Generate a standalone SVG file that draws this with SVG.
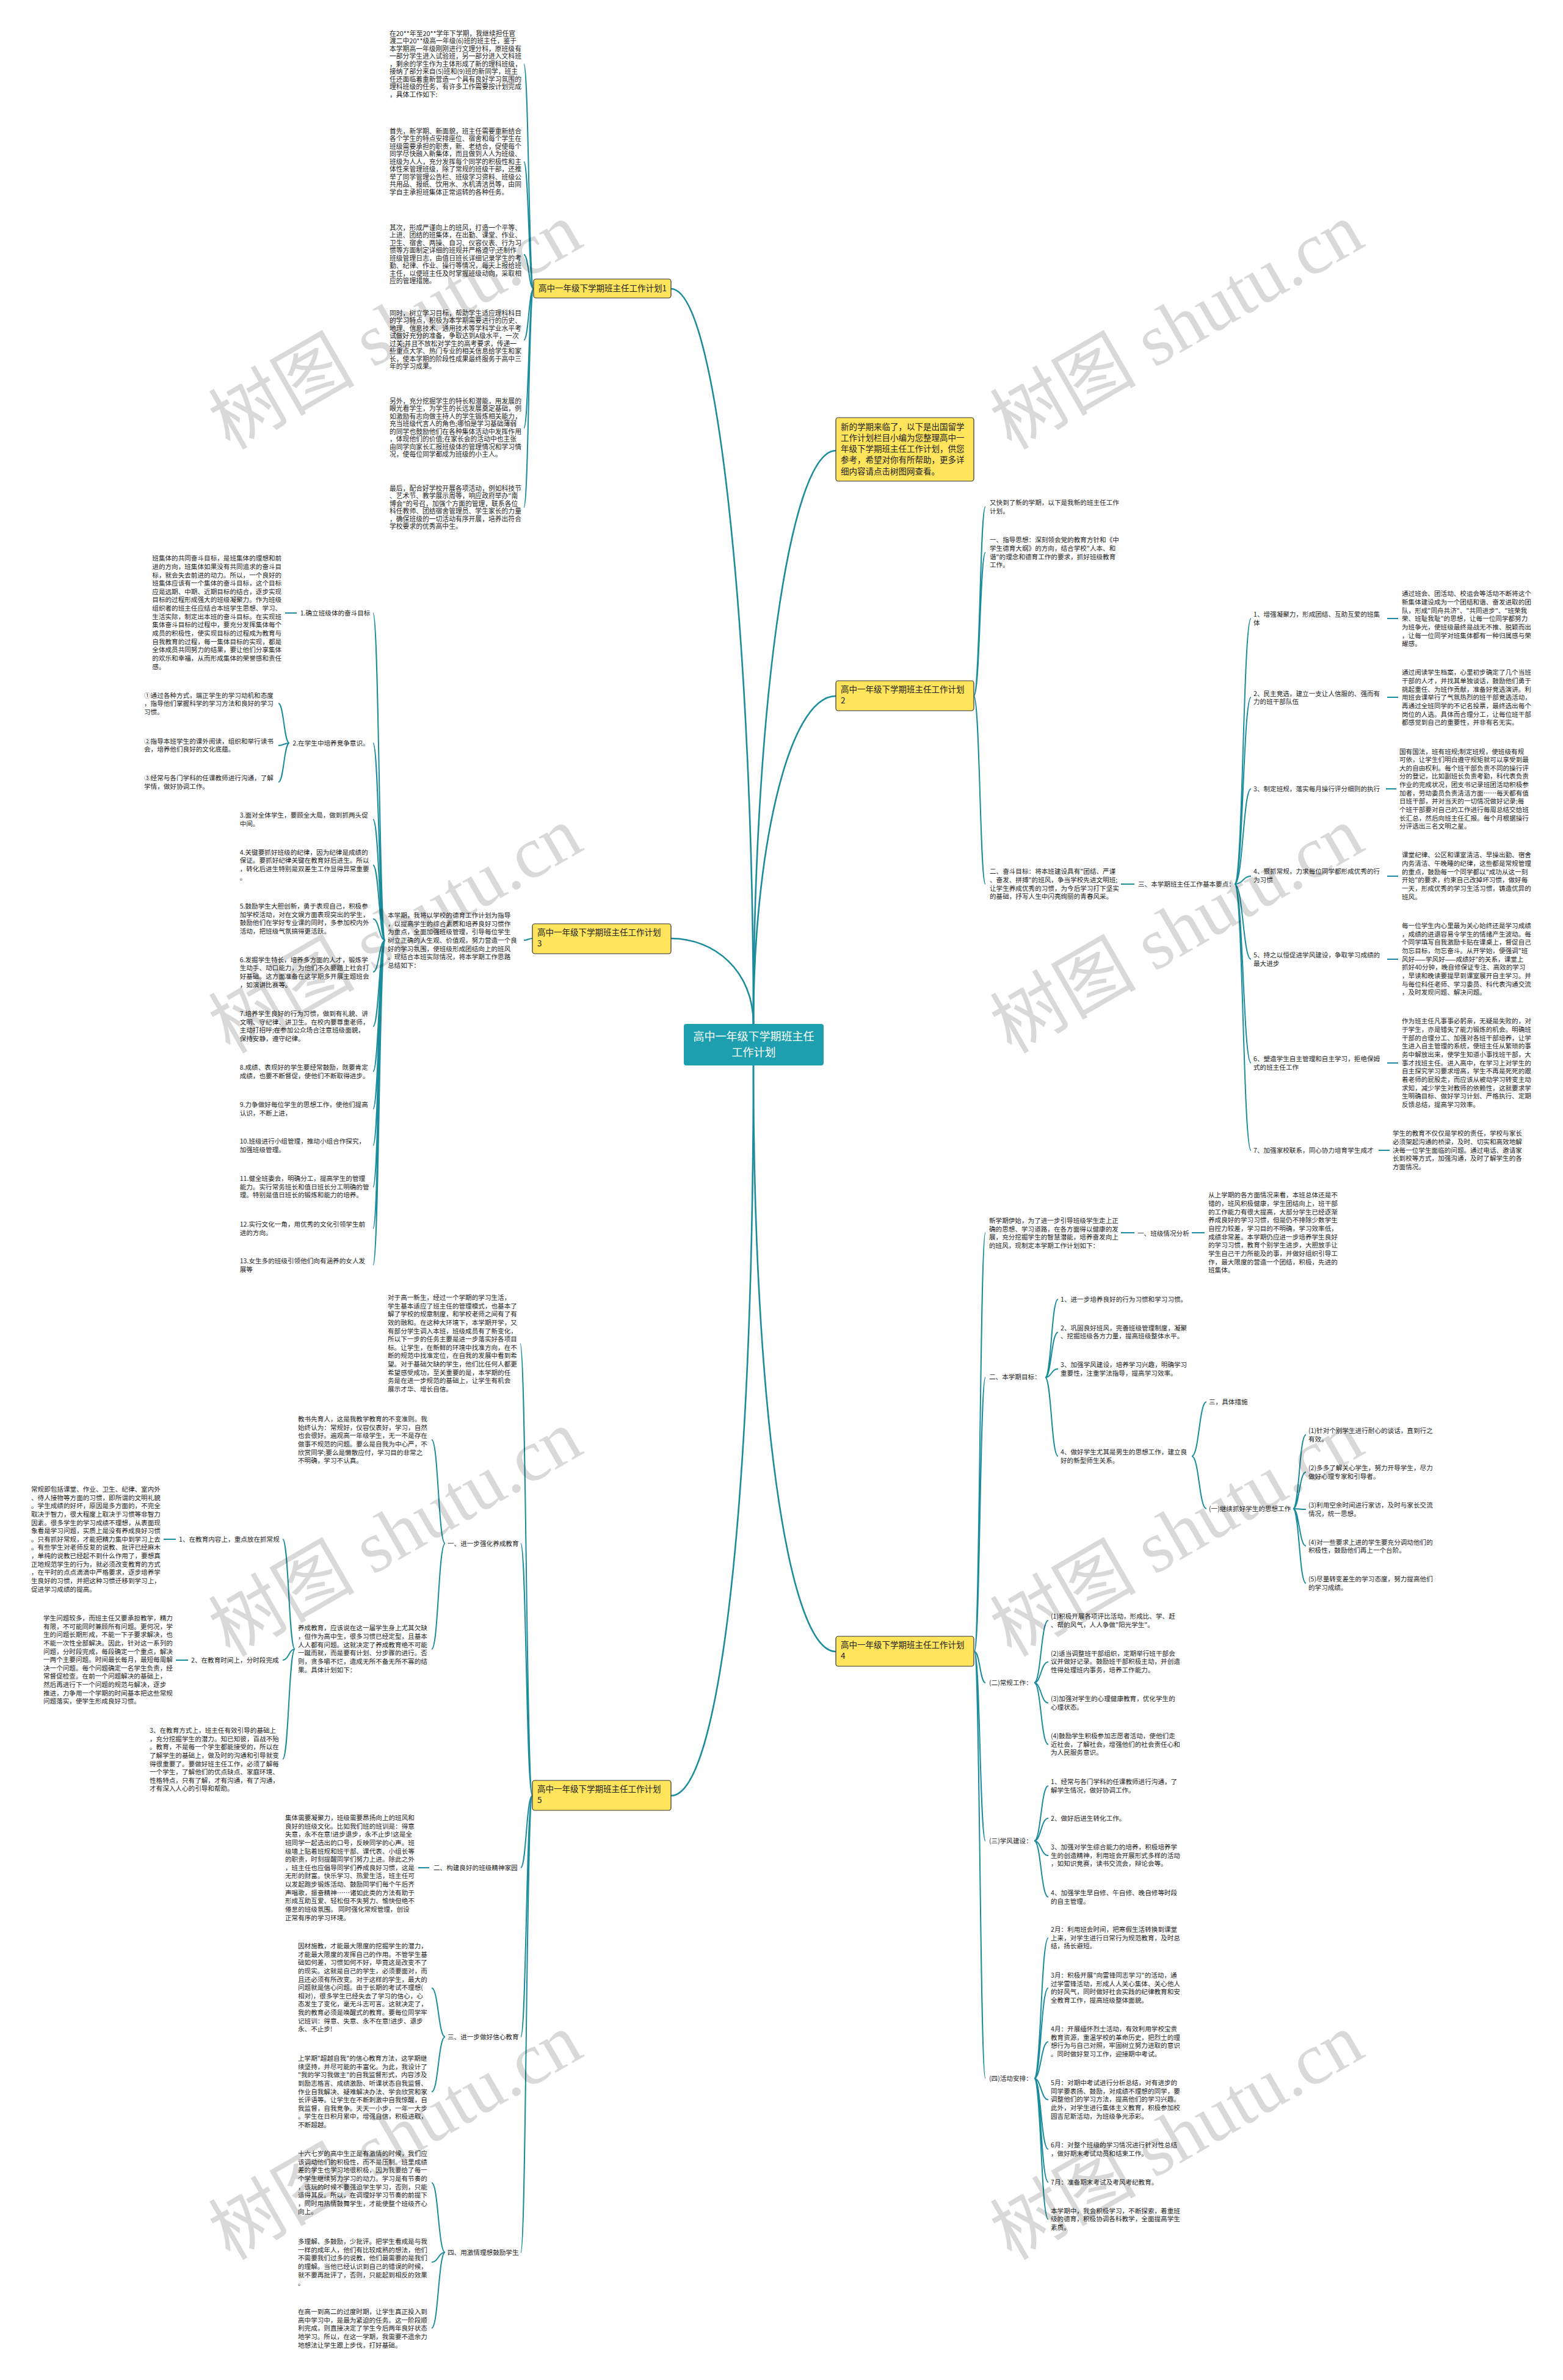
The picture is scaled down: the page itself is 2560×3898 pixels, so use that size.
<svg xmlns="http://www.w3.org/2000/svg" width="2560" height="3898" viewBox="0 0 2560 3898">
<style>
.t{font-family:"Noto Sans CJK SC","Noto Sans",sans-serif;font-size:10.6px;fill:#222}
.t1{font-family:"Noto Sans CJK SC","Noto Sans",sans-serif;font-size:10.8px;fill:#222}
.n{font-family:"Noto Sans CJK SC","Noto Sans",sans-serif;font-size:13.5px;fill:#222}
.c{font-family:"Noto Sans CJK SC","Noto Sans",sans-serif;font-size:18px;fill:#fff}
.ln{fill:none;stroke:#1b8c9c;stroke-width:2}
.mn{fill:none;stroke:#1b8c9c;stroke-width:2.6}
.box{fill:#ffe45c;stroke:#333;stroke-width:1.2}
.wm{font-family:"Liberation Serif","Noto Sans CJK SC",serif;font-size:120px;fill:#000;fill-opacity:.15}
</style>
<rect width="2560" height="3898" fill="#fff"/>
<g id="connectors">
<path class="mn" d="M1234 1677C1234 1100 1180 473 1099 473"/>
<path class="mn" d="M1234 1677C1234 1190 1290 738 1369 738"/>
<path class="mn" d="M1234 1677C1234 1400 1290 1140 1369 1140"/>
<path class="mn" d="M1234 1677C1234 1590 1170 1537 1099 1537"/>
<path class="mn" d="M1234 1745C1234 2300 1290 2705 1369 2705"/>
<path class="mn" d="M1234 1745C1234 2450 1180 2941 1099 2941"/>
<path class="ln" d="M874 473C866 473 866 105 858 105M874 473C866 473 866 265 858 265M874 473C866 473 866 417 858 417M874 473C866 473 866 557 858 557M874 473C866 473 866 701 858 701M874 473C866 473 866 831 858 831"/>
<path class="ln" d="M1595 1140C1605 1140 1605 830 1614 830M1595 1140C1605 1140 1605 905 1614 905M1595 1140C1605 1140 1605 1448 1614 1448M1836 1448H1858"/>
<path class="ln" d="M2022 1448C2036 1448 2036 1013 2049 1013M2022 1448C2036 1448 2036 1142 2049 1142M2022 1448C2036 1448 2036 1292 2049 1292M2022 1448C2036 1448 2036 1435 2049 1435M2022 1448C2036 1448 2036 1571 2049 1571M2022 1448C2036 1448 2036 1741 2049 1741M2022 1448C2036 1448 2036 1884 2049 1884"/>
<path class="ln" d="M2272 1013H2290M2272 1142H2290M2270 1292H2287M2272 1435H2290M2272 1571H2290M2272 1741H2290M2258 1884H2276"/>
<path class="ln" d="M872 1537C865 1537 865 1540 858 1540"/>
<path class="ln" d="M631 1540C621 1540 621 1004 611 1004M631 1540C621 1540 621 1217 611 1217M631 1540C621 1540 621 1342 611 1342M631 1540C621 1540 621 1417 611 1417M631 1540C621 1540 621 1505 611 1505M631 1540C621 1540 621 1592 611 1592M631 1540C621 1540 621 1681 611 1681M631 1540C621 1540 621 1755 611 1755M631 1540C621 1540 621 1816 611 1816M631 1540C621 1540 621 1876 611 1876M631 1540C621 1540 621 1944 611 1944M631 1540C621 1540 621 2012 611 2012M631 1540C621 1540 621 2072 611 2072"/>
<path class="ln" d="M486 1004H467"/>
<path class="ln" d="M474 1217C465 1217 465 1152 456 1152M474 1217C465 1217 465 1221 456 1221M474 1217C465 1217 465 1281 456 1281"/>
<path class="ln" d="M1596 2705C1605 2705 1605 2019 1614 2019M1596 2705C1605 2705 1605 2256 1614 2256M1596 2705C1605 2705 1605 2756 1614 2756M1596 2705C1605 2705 1605 3015 1614 3015M1596 2705C1605 2705 1605 3404 1614 3404"/>
<path class="ln" d="M1836 2019H1858M1952 2019H1973"/>
<path class="ln" d="M1712 2256C1722 2256 1722 2128 1733 2128M1712 2256C1722 2256 1722 2182 1733 2182M1712 2256C1722 2256 1722 2242 1733 2242M1712 2256C1722 2256 1722 2385 1733 2385"/>
<path class="ln" d="M1952 2385C1964 2385 1964 2296 1976 2296M1952 2385C1964 2385 1964 2471 1976 2471"/>
<path class="ln" d="M2118 2471C2128 2471 2128 2350 2139 2350M2118 2471C2128 2471 2128 2411 2139 2411M2118 2471C2128 2471 2128 2472 2139 2472M2118 2471C2128 2471 2128 2532 2139 2532M2118 2471C2128 2471 2128 2593 2139 2593"/>
<path class="ln" d="M1694 2756C1705 2756 1705 2654 1717 2654M1694 2756C1705 2756 1705 2722 1717 2722M1694 2756C1705 2756 1705 2789 1717 2789M1694 2756C1705 2756 1705 2857 1717 2857"/>
<path class="ln" d="M1694 3015C1705 3015 1705 2925 1717 2925M1694 3015C1705 3015 1705 2978 1717 2978M1694 3015C1705 3015 1705 3039 1717 3039M1694 3015C1705 3015 1705 3107 1717 3107"/>
<path class="ln" d="M1694 3404C1705 3404 1705 3174 1717 3174M1694 3404C1705 3404 1705 3256 1717 3256M1694 3404C1705 3404 1705 3344 1717 3344M1694 3404C1705 3404 1705 3439 1717 3439M1694 3404C1705 3404 1705 3520 1717 3520M1694 3404C1705 3404 1705 3574 1717 3574M1694 3404C1705 3404 1705 3635 1717 3635"/>
<path class="ln" d="M872 2941C862 2941 862 2201 852 2201M872 2941C862 2941 862 2528 853 2528M872 2941C862 2941 862 3059 853 3059M872 2941C862 2941 862 3336 853 3336M872 2941C862 2941 862 3689 853 3689"/>
<path class="ln" d="M729 2528C718 2528 718 2358 707 2358M729 2528C718 2528 718 2701 707 2701"/>
<path class="ln" d="M483 2701C473 2701 473 2521 463 2521M483 2701C473 2701 473 2719 463 2719M483 2701C473 2701 473 2881 463 2881"/>
<path class="ln" d="M288 2521H268M308 2719H288M703 3059H685"/>
<path class="ln" d="M729 3336C718 3336 718 3256 707 3256M729 3336C718 3336 718 3426 707 3426"/>
<path class="ln" d="M729 3689C718 3689 718 3575 707 3575M729 3689C718 3689 718 3705 707 3705M729 3689C718 3689 718 3813 707 3813"/>
</g>
<g id="center">
<rect x="1120" y="1677" width="229" height="68" rx="4" fill="#1d9fb0"/>
<text class="c" x="1234.5" y="1704" text-anchor="middle">高中一年级下学期班主任</text>
<text class="c" x="1234.5" y="1730" text-anchor="middle">工作计划</text>
</g>
<g id="node1"><rect class="box" x="874" y="457" width="225" height="31" rx="4"/><text class="n" x="882" y="477">高中一年级下学期班主任工作计划1</text></g>
<g id="node-intro"><rect class="box" x="1369" y="684" width="226" height="104" rx="4"/>
<text class="n" x="1377" y="703.7"><tspan x="1377">新的学期来临了，以下是出国留学</tspan><tspan x="1377" dy="18.2">工作计划栏目小编为您整理高中一</tspan><tspan x="1377" dy="18.2">年级下学期班主任工作计划，供您</tspan><tspan x="1377" dy="18.2">参考，希望对你有所帮助，更多详</tspan><tspan x="1377" dy="18.2">细内容请点击树图网查看。</tspan></text></g>
<g id="node2"><rect class="box" x="1369" y="1115" width="226" height="49" rx="4"/><text class="n" x="1377" y="1134"><tspan x="1377">高中一年级下学期班主任工作计划</tspan><tspan x="1377" dy="18">2</tspan></text></g>
<g id="node3"><rect class="box" x="872" y="1513" width="227" height="49" rx="4"/><text class="n" x="880" y="1532"><tspan x="880">高中一年级下学期班主任工作计划</tspan><tspan x="880" dy="18">3</tspan></text></g>
<g id="node4"><rect class="box" x="1369" y="2680" width="226" height="49" rx="4"/><text class="n" x="1377" y="2699"><tspan x="1377">高中一年级下学期班主任工作计划</tspan><tspan x="1377" dy="18">4</tspan></text></g>
<g id="node5"><rect class="box" x="872" y="2916" width="227" height="49" rx="4"/><text class="n" x="880" y="2935"><tspan x="880">高中一年级下学期班主任工作计划</tspan><tspan x="880" dy="18">5</tspan></text></g>

<g id="b1">
<text class="t1" x="638" y="58.9"><tspan x="638">在20**年至20**学年下学期，我继续担任官</tspan><tspan x="638" dy="12.5">渡二中20**级高一年级(6)班的班主任，鉴于</tspan><tspan x="638" dy="12.5">本学期高一年级刚刚进行文理分科，原班级有</tspan><tspan x="638" dy="12.5">一部分学生进入试验班，另一部分进入文科班</tspan><tspan x="638" dy="12.5">，剩余的学生作为主体形成了新的理科班级，</tspan><tspan x="638" dy="12.5">接纳了部分来自(5)班和(9)班的新同学，班主</tspan><tspan x="638" dy="12.5">任还面临着重新营造一个具有良好学习氛围的</tspan><tspan x="638" dy="12.5">理科班级的任务，有许多工作需要按计划完成</tspan><tspan x="638" dy="12.5">，具体工作如下:</tspan></text>
<text class="t1" x="638" y="218.9"><tspan x="638">首先，新学期、新面貌，班主任需要重新结合</tspan><tspan x="638" dy="12.5">各个学生的特点安排座位、宿舍和每个学生在</tspan><tspan x="638" dy="12.5">班级需要承担的职责，新、老结合，促使每个</tspan><tspan x="638" dy="12.5">同学尽快融入新集体，而且做到人人为班级、</tspan><tspan x="638" dy="12.5">班级为人人，充分发挥每个同学的积极性和主</tspan><tspan x="638" dy="12.5">体性来管理班级，除了常规的班级干部，还推</tspan><tspan x="638" dy="12.5">举了同学管理公告栏、班级学习资料、班级公</tspan><tspan x="638" dy="12.5">共用品、报纸、饮用水、水机清洁员等，由同</tspan><tspan x="638" dy="12.5">学自主承担班集体正常运转的各种任务。</tspan></text>
<text class="t1" x="638" y="376.9"><tspan x="638">其次，形成严谨向上的班风，打造一个平等、</tspan><tspan x="638" dy="12.5">上进、团结的班集体，在出勤、课堂、作业、</tspan><tspan x="638" dy="12.5">卫生、宿舍、两操、自习、仪容仪表、行为习</tspan><tspan x="638" dy="12.5">惯等方面制定详细的班规并严格遵守;还制作</tspan><tspan x="638" dy="12.5">班级管理日志，由值日班长详细记录学生的考</tspan><tspan x="638" dy="12.5">勤、纪律、作业、操行等情况，每天上报给班</tspan><tspan x="638" dy="12.5">主任，以便班主任及时掌握班级动向，采取相</tspan><tspan x="638" dy="12.5">应的管理措施。</tspan></text>
<text class="t1" x="638" y="516.9"><tspan x="638">同时，树立学习目标，帮助学生适应理科科目</tspan><tspan x="638" dy="12.5">的学习特点，积极为本学期需要进行的历史、</tspan><tspan x="638" dy="12.5">地理、信息技术、通用技术等学科学业水平考</tspan><tspan x="638" dy="12.5">试做好充分的准备，争取达到A级水平，一次</tspan><tspan x="638" dy="12.5">过关;并且不放松对学生的高考要求，传递一</tspan><tspan x="638" dy="12.5">些重点大学、热门专业的相关信息给学生和家</tspan><tspan x="638" dy="12.5">长，使本学期的阶段性成果最终服务于高中三</tspan><tspan x="638" dy="12.5">年的学习成果。</tspan></text>
<text class="t1" x="638" y="660.9"><tspan x="638">另外，充分挖掘学生的特长和潜能，用发展的</tspan><tspan x="638" dy="12.5">眼光看学生，为学生的长远发展奠定基础，例</tspan><tspan x="638" dy="12.5">如激励有志向做主持人的学生锻炼相关能力，</tspan><tspan x="638" dy="12.5">充当班级代言人的角色;哪怕是学习基础薄弱</tspan><tspan x="638" dy="12.5">的同学也鼓励他们在各种集体活动中发挥作用</tspan><tspan x="638" dy="12.5">，体现他们的价值;在家长会的活动中也主张</tspan><tspan x="638" dy="12.5">由同学向家长汇报班级体的管理情况和学习情</tspan><tspan x="638" dy="12.5">况，使每位同学都成为班级的小主人。</tspan></text>
<text class="t1" x="638" y="803.9"><tspan x="638">最后，配合好学校开展各项活动，例如科技节</tspan><tspan x="638" dy="12.5">、艺术节、教学展示周等，响应政府举办"南</tspan><tspan x="638" dy="12.5">博会"的号召，加强个方面的管理，联系各位</tspan><tspan x="638" dy="12.5">科任教师、团结宿舍管理员、学生家长的力量</tspan><tspan x="638" dy="12.5">，确保班级的一切活动有序开展，培养出符合</tspan><tspan x="638" dy="12.5">学校要求的优秀高中生。</tspan></text>
</g>

<g id="b2">
<text class="t" x="1621" y="826.9"><tspan x="1621">又快到了新的学期，以下是我新的班主任工作</tspan><tspan x="1621" dy="13.65">计划。</tspan></text>
<text class="t" x="1621" y="888.2"><tspan x="1621">一、指导思想：深刻领会党的教育方针和《中</tspan><tspan x="1621" dy="13.65">学生德育大纲》的方向，结合学校"人本、和</tspan><tspan x="1621" dy="13.65">谐"的理念和德育工作的要求，抓好班级教育</tspan><tspan x="1621" dy="13.65">工作。</tspan></text>
<text class="t" x="1621" y="1431.4"><tspan x="1621">二、奋斗目标：将本班建设具有"团结、严谨</tspan><tspan x="1621" dy="13.65">、奋发、拼搏"的班风，争当学校先进文明班;</tspan><tspan x="1621" dy="13.65">让学生养成优秀的习惯，为今后学习打下坚实</tspan><tspan x="1621" dy="13.65">的基础，抒写人生中闪亮绚丽的青春风采。</tspan></text>
<text class="t" x="1864" y="1451.9">三、本学期班主任工作基本要点：</text>
<text class="t" x="2053" y="1009.9"><tspan x="2053">1、增强凝聚力，形成团结、互助互爱的班集</tspan><tspan x="2053" dy="13.65">体</tspan></text>
<text class="t" x="2053" y="1139.6"><tspan x="2053">2、民主竞选，建立一支让人信服的、强而有</tspan><tspan x="2053" dy="13.65">力的班干部队伍</tspan></text>
<text class="t" x="2053" y="1295.9">3、制定班规，落实每月操行评分细则的执行</text>
<text class="t" x="2053" y="1431.4"><tspan x="2053">4、狠抓常规，力求每位同学都形成优秀的行</tspan><tspan x="2053" dy="13.65">为习惯</tspan></text>
<text class="t" x="2053" y="1567.9"><tspan x="2053">5、持之以恒促进学风建设，争取学习成绩的</tspan><tspan x="2053" dy="13.65">最大进步</tspan></text>
<text class="t" x="2053" y="1737.9"><tspan x="2053">6、塑造学生自主管理和自主学习，拒绝保姆</tspan><tspan x="2053" dy="13.65">式的班主任工作</tspan></text>
<text class="t" x="2053" y="1887.5">7、加强家校联系，同心协力培育学生成才</text>
<text class="t" x="2296" y="976.4"><tspan x="2296">通过班会、团活动、校运会等活动不断将这个</tspan><tspan x="2296" dy="13.65">新集体建设成为一个团结和谐、奋发进取的团</tspan><tspan x="2296" dy="13.65">队，形成"同舟共济"、"共同进步"、"班荣我</tspan><tspan x="2296" dy="13.65">荣、班耻我耻"的思想，让每一位同学都努力</tspan><tspan x="2296" dy="13.65">为班争光，使班级最终是战无不推、脱颖而出</tspan><tspan x="2296" dy="13.65">，让每一位同学对班集体都有一种归属感与荣</tspan><tspan x="2296" dy="13.65">耀感。</tspan></text>
<text class="t" x="2296" y="1105.4"><tspan x="2296">通过阅读学生档案，心里初步确定了几个当班</tspan><tspan x="2296" dy="13.65">干部的人才，并找其单独谈话，鼓励他们勇于</tspan><tspan x="2296" dy="13.65">挑起重任、为班作贡献，准备好竞选演讲。利</tspan><tspan x="2296" dy="13.65">用班会课举行了气氛热烈的班干部竞选活动，</tspan><tspan x="2296" dy="13.65">再通过全班同学的不记名投票，最终选出每个</tspan><tspan x="2296" dy="13.65">岗位的人选。具体而合理分工，让每位班干部</tspan><tspan x="2296" dy="13.65">都感觉到自己的重要性，并非有名无实。</tspan></text>
<text class="t" x="2292" y="1234.5"><tspan x="2292">国有国法，班有班规;制定班规，使班级有规</tspan><tspan x="2292" dy="13.65">可依，让学生们明白遵守规矩就可以享受到最</tspan><tspan x="2292" dy="13.65">大的自由权利。每个班干部负责不同的操行评</tspan><tspan x="2292" dy="13.65">分的登记，比如副班长负责考勤，科代表负责</tspan><tspan x="2292" dy="13.65">作业的完成状况，团支书记录班团活动积极参</tspan><tspan x="2292" dy="13.65">加者，劳动委员负责清洁方面……每天都有值</tspan><tspan x="2292" dy="13.65">日班干部，并对当天的一切情况做好记录;每</tspan><tspan x="2292" dy="13.65">个班干部要对自己的工作进行每周总结交给班</tspan><tspan x="2292" dy="13.65">长汇总，然后向班主任汇报。每个月根据操行</tspan><tspan x="2292" dy="13.65">分评选出三名文明之星。</tspan></text>
<text class="t" x="2296" y="1404.4"><tspan x="2296">课堂纪律、公区和课室清洁、早操出勤、宿舍</tspan><tspan x="2296" dy="13.65">内务清洁、午晚睡的纪律，这些都是常规管理</tspan><tspan x="2296" dy="13.65">的重点，鼓励每一个同学都以"成功从这一刻</tspan><tspan x="2296" dy="13.65">开始"的要求，约束自己改掉坏习惯，做好每</tspan><tspan x="2296" dy="13.65">一天，形成优秀的学习生活习惯，铸造优异的</tspan><tspan x="2296" dy="13.65">班风。</tspan></text>
<text class="t" x="2296" y="1520.1"><tspan x="2296">每一位学生内心里最为关心始终还是学习成绩</tspan><tspan x="2296" dy="13.65">，成绩的进退容易令学生的情绪产生波动。每</tspan><tspan x="2296" dy="13.65">个同学填写自我激励卡贴在课桌上，督促自己</tspan><tspan x="2296" dy="13.65">勿忘目标，勿忘奋斗。从开学始，便强调"班</tspan><tspan x="2296" dy="13.65">风好——学风好——成绩好"的关系，课堂上</tspan><tspan x="2296" dy="13.65">抓好40分钟，晚自修保证专注、高效的学习</tspan><tspan x="2296" dy="13.65">，早读和晚读要提早到课室展开自主学习。并</tspan><tspan x="2296" dy="13.65">与每位科任老师、学习委员、科代表沟通交流</tspan><tspan x="2296" dy="13.65">，及时发现问题、解决问题。</tspan></text>
<text class="t" x="2296" y="1676.4"><tspan x="2296">作为班主任凡事事必躬亲，无疑是失败的，对</tspan><tspan x="2296" dy="13.65">于学生，亦是错失了能力锻炼的机会。明确班</tspan><tspan x="2296" dy="13.65">干部的合理分工、加强对各班干部培养，让学</tspan><tspan x="2296" dy="13.65">生进入自主管理的系统，使班主任从繁琐的事</tspan><tspan x="2296" dy="13.65">务中解放出来，使学生知道小事找班干部，大</tspan><tspan x="2296" dy="13.65">事才找班主任。进入高中，在学习上对学生的</tspan><tspan x="2296" dy="13.65">自主探究学习要求增高，学生不再是死死的跟</tspan><tspan x="2296" dy="13.65">着老师的屁股走，而应该从被动学习转变主动</tspan><tspan x="2296" dy="13.65">求知，减少学生对教师的依赖性，这就要求学</tspan><tspan x="2296" dy="13.65">生明确目标、做好学习计划、严格执行、定期</tspan><tspan x="2296" dy="13.65">反馈总结，提高学习效率。</tspan></text>
<text class="t" x="2281" y="1860.2"><tspan x="2281">学生的教育不仅仅是学校的责任，学校与家长</tspan><tspan x="2281" dy="13.65">必须架起沟通的桥梁，及时、切实和高效地解</tspan><tspan x="2281" dy="13.65">决每一位学生面临的问题。通过电话、邀请家</tspan><tspan x="2281" dy="13.65">长到校等方式，加强沟通，及时了解学生的各</tspan><tspan x="2281" dy="13.65">方面情况。</tspan></text>
</g>

<g id="b3">
<text class="t" x="635" y="1502.9"><tspan x="635">本学期，我将以学校的德育工作计划为指导</tspan><tspan x="635" dy="13.65">，以提高学生的综合素质和培养良好习惯作</tspan><tspan x="635" dy="13.65">为重点，全面加强班级管理，引导每位学生</tspan><tspan x="635" dy="13.65">树立正确的人生观、价值观，努力营造一个良</tspan><tspan x="635" dy="13.65">好的学习氛围，使班级形成团结向上的班风</tspan><tspan x="635" dy="13.65">。现结合本班实际情况，将本学期工作思路</tspan><tspan x="635" dy="13.65">总结如下：</tspan></text>
<text class="t" x="491.7" y="1007.5">1.确立班级体的奋斗目标</text>
<text class="t" x="249.3" y="918.2"><tspan x="249.3">班集体的共同奋斗目标，是班集体的理想和前</tspan><tspan x="249.3" dy="13.65">进的方向，班集体如果没有共同追求的奋斗目</tspan><tspan x="249.3" dy="13.65">标，就会失去前进的动力。所以，一个良好的</tspan><tspan x="249.3" dy="13.65">班集体应该有一个集体的奋斗目标，这个目标</tspan><tspan x="249.3" dy="13.65">应是远期、中期、近期目标的结合，逐步实现</tspan><tspan x="249.3" dy="13.65">目标的过程形成强大的班级凝聚力。作为班级</tspan><tspan x="249.3" dy="13.65">组织者的班主任应结合本班学生思想、学习、</tspan><tspan x="249.3" dy="13.65">生活实际，制定出本班的奋斗目标。在实现班</tspan><tspan x="249.3" dy="13.65">集体奋斗目标的过程中，要充分发挥集体每个</tspan><tspan x="249.3" dy="13.65">成员的积极性，使实现目标的过程成为教育与</tspan><tspan x="249.3" dy="13.65">自我教育的过程，每一集体目标的实现，都是</tspan><tspan x="249.3" dy="13.65">全体成员共同努力的结果，要让他们分享集体</tspan><tspan x="249.3" dy="13.65">的欢乐和幸福，从而形成集体的荣誉感和责任</tspan><tspan x="249.3" dy="13.65">感。</tspan></text>
<text class="t" x="479.3" y="1220.9">2.在学生中培养竞争意识。</text>
<text class="t" x="236" y="1142.5"><tspan x="236">①通过各种方式，端正学生的学习动机和态度</tspan><tspan x="236" dy="13.65">，指导他们掌握科学的学习方法和良好的学习</tspan><tspan x="236" dy="13.65">习惯。</tspan></text>
<text class="t" x="236" y="1217.5"><tspan x="236">②指导本班学生的课外阅读，组织和举行读书</tspan><tspan x="236" dy="13.65">会，培养他们良好的文化底蕴。</tspan></text>
<text class="t" x="236" y="1277.9"><tspan x="236">③经常与各门学科的任课教师进行沟通，了解</tspan><tspan x="236" dy="13.65">学情，做好协调工作。</tspan></text>
<text class="t" x="392.7" y="1338.9"><tspan x="392.7">3.面对全体学生，要顾全大局，做到抓两头促</tspan><tspan x="392.7" dy="13.65">中间。</tspan></text>
<text class="t" x="392.7" y="1399.6"><tspan x="392.7">4.关键要抓好班级的纪律，因为纪律是成绩的</tspan><tspan x="392.7" dy="13.65">保证。要抓好纪律关键在教育好后进生。所以</tspan><tspan x="392.7" dy="13.65">，转化后进生特别是双差生工作显得异常重要</tspan><tspan x="392.7" dy="13.65">。</tspan></text>
<text class="t" x="392.7" y="1487.9"><tspan x="392.7">5.鼓励学生大胆创新，勇于表现自己，积极参</tspan><tspan x="392.7" dy="13.65">加学校活动，对在文娱方面表现突出的学生，</tspan><tspan x="392.7" dy="13.65">鼓励他们在学好专业课的同时，多参加校内外</tspan><tspan x="392.7" dy="13.65">活动，把班级气氛搞得更活跃。</tspan></text>
<text class="t" x="392.7" y="1575.6"><tspan x="392.7">6.发掘学生特长，培养多方面的人才，锻炼学</tspan><tspan x="392.7" dy="13.65">生动手、动口能力，为他们不久要踏上社会打</tspan><tspan x="392.7" dy="13.65">好基础。这方面准备在这学期多开展主题班会</tspan><tspan x="392.7" dy="13.65">，如演讲比赛等。</tspan></text>
<text class="t" x="392.7" y="1663.9"><tspan x="392.7">7.培养学生良好的行为习惯，做到有礼貌、讲</tspan><tspan x="392.7" dy="13.65">文明、守纪律、讲卫生。在校内要尊重老师，</tspan><tspan x="392.7" dy="13.65">主动打招呼;在参加公众场合注意班级面貌，</tspan><tspan x="392.7" dy="13.65">保持安静，遵守纪律。</tspan></text>
<text class="t" x="392.7" y="1751.9"><tspan x="392.7">8.成绩、表现好的学生要经常鼓励，既要肯定</tspan><tspan x="392.7" dy="13.65">成绩，也要不断督促，使他们不断取得进步。</tspan></text>
<text class="t" x="392.7" y="1812.9"><tspan x="392.7">9.力争做好每位学生的思想工作，使他们提高</tspan><tspan x="392.7" dy="13.65">认识，不断上进，</tspan></text>
<text class="t" x="392.7" y="1872.9"><tspan x="392.7">10.班级进行小组管理，推动小组合作探究，</tspan><tspan x="392.7" dy="13.65">加强班级管理。</tspan></text>
<text class="t" x="392.7" y="1933.9"><tspan x="392.7">11.健全班委会，明确分工，提高学生的管理</tspan><tspan x="392.7" dy="13.65">能力。实行常务班长和值日班长分工明确的管</tspan><tspan x="392.7" dy="13.65">理。特别是值日班长的锻炼和能力的培养。</tspan></text>
<text class="t" x="392.7" y="2008.9"><tspan x="392.7">12.实行文化一角，用优秀的文化引领学生前</tspan><tspan x="392.7" dy="13.65">进的方向。</tspan></text>
<text class="t" x="392.7" y="2069.3"><tspan x="392.7">13.女生多的班级引领他们向有涵养的女人发</tspan><tspan x="392.7" dy="13.65">展等</tspan></text>
</g>

<g id="b4">
<text class="t" x="1620" y="2002.9"><tspan x="1620">新学期伊始，为了进一步引导班级学生走上正</tspan><tspan x="1620" dy="13.65">确的思想、学习道路，在各方面得以健康的发</tspan><tspan x="1620" dy="13.65">展，充分挖掘学生的智慧潜能，培养奋发向上</tspan><tspan x="1620" dy="13.65">的班风，现制定本学期工作计划如下：</tspan></text>
<text class="t" x="1863" y="2023.5">一、班级情况分析</text>
<text class="t" x="1979" y="1961.4"><tspan x="1979">从上学期的各方面情况来看，本班总体还是不</tspan><tspan x="1979" dy="13.65">错的，班风积极健康，学生团结向上，班干部</tspan><tspan x="1979" dy="13.65">的工作能力有很大提高，大部分学生已经逐渐</tspan><tspan x="1979" dy="13.65">养成良好的学习习惯，但是仍不排除少数学生</tspan><tspan x="1979" dy="13.65">自控力较差，学习目的不明确，学习效率低，</tspan><tspan x="1979" dy="13.65">成绩非常差。本学期仍应进一步培养学生良好</tspan><tspan x="1979" dy="13.65">的学习习惯，教育个别学生进步，大胆放手让</tspan><tspan x="1979" dy="13.65">学生自己干力所能及的事，并做好组织引导工</tspan><tspan x="1979" dy="13.65">作，最大限度的营造一个团结，积极，先进的</tspan><tspan x="1979" dy="13.65">班集体。</tspan></text>
<text class="t" x="1620" y="2259.4">二、本学期目标：</text>
<text class="t" x="1737" y="2131.7">1、进一步培养良好的行为习惯和学习习惯。</text>
<text class="t" x="1737" y="2178.6"><tspan x="1737">2、巩固良好班风，完善班级管理制度，凝聚</tspan><tspan x="1737" dy="13.65">、挖掘班级各方力量，提高班级整体水平。</tspan></text>
<text class="t" x="1737" y="2238.9"><tspan x="1737">3、加强学风建设，培养学习兴趣，明确学习</tspan><tspan x="1737" dy="13.65">重要性，注重学法指导，提高学习效率。</tspan></text>
<text class="t" x="1737" y="2381.9"><tspan x="1737">4、做好学生尤其是男生的思想工作，建立良</tspan><tspan x="1737" dy="13.65">好的新型师生关系。</tspan></text>
<text class="t" x="1980" y="2299.9">三，具体措施</text>
<text class="t" x="1980" y="2474.9">(一)继续抓好学生的思想工作</text>
<text class="t" x="2143" y="2346.9"><tspan x="2143">(1)针对个别学生进行耐心的谈话，直到行之</tspan><tspan x="2143" dy="13.65">有效。</tspan></text>
<text class="t" x="2143" y="2407.9"><tspan x="2143">(2)多多了解关心学生，努力开导学生，尽力</tspan><tspan x="2143" dy="13.65">做好心理专家和引导者。</tspan></text>
<text class="t" x="2143" y="2468.9"><tspan x="2143">(3)利用空余时间进行家访，及时与家长交流</tspan><tspan x="2143" dy="13.65">情况，统一思想。</tspan></text>
<text class="t" x="2143" y="2529.6"><tspan x="2143">(4)对一些要求上进的学生要充分调动他们的</tspan><tspan x="2143" dy="13.65">积极性，鼓励他们再上一个台阶。</tspan></text>
<text class="t" x="2143" y="2590.4"><tspan x="2143">(5)尽量转变差生的学习态度，努力提高他们</tspan><tspan x="2143" dy="13.65">的学习成绩。</tspan></text>
<text class="t" x="1620" y="2759.9">(二)常规工作：</text>
<text class="t" x="1721" y="2650.9"><tspan x="1721">(1)积极开展各项评比活动，形成比、学、赶</tspan><tspan x="1721" dy="13.65">、帮的风气，人人争做"阳光学生"。</tspan></text>
<text class="t" x="1721" y="2711.7"><tspan x="1721">(2)适当调整班干部组织，定期举行班干部会</tspan><tspan x="1721" dy="13.65">议并做好记录。鼓励班干部积极主动，并创造</tspan><tspan x="1721" dy="13.65">性得处理班内事务，培养工作能力。</tspan></text>
<text class="t" x="1721" y="2786.3"><tspan x="1721">(3)加强对学生的心理健康教育，优化学生的</tspan><tspan x="1721" dy="13.65">心理状态。</tspan></text>
<text class="t" x="1721" y="2846.9"><tspan x="1721">(4)鼓励学生积极参加志愿者活动，使他们走</tspan><tspan x="1721" dy="13.65">近社会，了解社会，增强他们的社会责任心和</tspan><tspan x="1721" dy="13.65">为人民服务意识。</tspan></text>
<text class="t" x="1620" y="3018.9">(三)学风建设：</text>
<text class="t" x="1721" y="2921.9"><tspan x="1721">1、经常与各门学科的任课教师进行沟通，了</tspan><tspan x="1721" dy="13.65">解学生情况，做好协调工作。</tspan></text>
<text class="t" x="1721" y="2981.9">2、做好后进生转化工作。</text>
<text class="t" x="1721" y="3028.9"><tspan x="1721">3、加强对学生综合能力的培养，积极培养学</tspan><tspan x="1721" dy="13.65">生的创造精神，利用班会开展形式多样的活动</tspan><tspan x="1721" dy="13.65">，如知识竞赛，读书交流会，辩论会等。</tspan></text>
<text class="t" x="1721" y="3103.9"><tspan x="1721">4、加强学生早自修、午自修、晚自修等时段</tspan><tspan x="1721" dy="13.65">的自主管理。</tspan></text>
<text class="t" x="1620" y="3407.9">(四)活动安排：</text>
<text class="t" x="1721" y="3163.9"><tspan x="1721">2月：利用班会时间，把寒假生活转换到课堂</tspan><tspan x="1721" dy="13.65">上来，对学生进行日常行为规范教育，及时总</tspan><tspan x="1721" dy="13.65">结，扬长避短。</tspan></text>
<text class="t" x="1721" y="3238.9"><tspan x="1721">3月：积极开展"向雷锋同志学习"的活动，通</tspan><tspan x="1721" dy="13.65">过学雷锋活动，形成人人关心集体、关心他人</tspan><tspan x="1721" dy="13.65">的好风气，同时做好社会实践的纪律教育和安</tspan><tspan x="1721" dy="13.65">全教育工作，提高班级整体面貌。</tspan></text>
<text class="t" x="1721" y="3326.9"><tspan x="1721">4月：开展缅怀烈士活动，有效利用学校宝贵</tspan><tspan x="1721" dy="13.65">教育资源，重温学校的革命历史，把烈士的理</tspan><tspan x="1721" dy="13.65">想行为与自己对照，牢固树立努力进取的意识</tspan><tspan x="1721" dy="13.65">。同时做好复习工作，迎接期中考试。</tspan></text>
<text class="t" x="1721" y="3414.9"><tspan x="1721">5月：对期中考试进行分析总结，对有进步的</tspan><tspan x="1721" dy="13.65">同学要表扬、鼓励，对成绩不理想的同学，要</tspan><tspan x="1721" dy="13.65">调整他们的学习方法，提高他们的学习兴趣。</tspan><tspan x="1721" dy="13.65">此外，对学生进行集体主义教育，积极参加校</tspan><tspan x="1721" dy="13.65">园吉尼斯活动，为班级争光添彩。</tspan></text>
<text class="t" x="1721" y="3516.9"><tspan x="1721">6月：对整个班级的学习情况进行针对性总结</tspan><tspan x="1721" dy="13.65">，做好期末考试动员和结束工作。</tspan></text>
<text class="t" x="1721" y="3577.9">7月：准备期末考试及考风考纪教育。</text>
<text class="t" x="1721" y="3624.5"><tspan x="1721">本学期中，我会积极学习，不断探索，着重班</tspan><tspan x="1721" dy="13.65">级的德育，积极协调各科教学，全面提高学生</tspan><tspan x="1721" dy="13.65">素质。</tspan></text>
</g>

<g id="b5">
<text class="t" x="635" y="2128.9"><tspan x="635">对于高一新生，经过一个学期的学习生活，</tspan><tspan x="635" dy="13.65">学生基本适应了班主任的管理模式，也基本了</tspan><tspan x="635" dy="13.65">解了学校的规章制度，和学校老师之间有了有</tspan><tspan x="635" dy="13.65">效的融和。在这种大环境下，本学期开学，又</tspan><tspan x="635" dy="13.65">有部分学生调入本班，班级成员有了新变化，</tspan><tspan x="635" dy="13.65">所以下一步的任务主要是进一步落实好各项目</tspan><tspan x="635" dy="13.65">标。让学生，在新鲜的环境中找准方向，在不</tspan><tspan x="635" dy="13.65">断的规范中找准定位，在自我的发展中看到希</tspan><tspan x="635" dy="13.65">望。对于基础欠缺的学生，他们比任何人都更</tspan><tspan x="635" dy="13.65">希望感受成功，至关重要的是，本学期的任</tspan><tspan x="635" dy="13.65">务是在进一步规范的基础上，让学生有机会</tspan><tspan x="635" dy="13.65">展示才华、增长自信。</tspan></text>
<text class="t" x="733" y="2531.9">一、进一步强化养成教育</text>
<text class="t" x="488" y="2327.9"><tspan x="488">教书先育人，这是我教学教育的不变准则。我</tspan><tspan x="488" dy="13.65">始终认为：常规好，仪容仪表好，学习，自然</tspan><tspan x="488" dy="13.65">也会很好。遍观高一年级学生，无一不是存在</tspan><tspan x="488" dy="13.65">做事不规范的问题。要么是自我为中心严，不</tspan><tspan x="488" dy="13.65">欣赏同学;要么是懒散应付，学习目的非常之</tspan><tspan x="488" dy="13.65">不明确，学习不认真。</tspan></text>
<text class="t" x="488" y="2670.3"><tspan x="488">养成教育，应该说在这一届学生身上尤其欠缺</tspan><tspan x="488" dy="13.65">，但作为高中生，很多习惯已经定型，且基本</tspan><tspan x="488" dy="13.65">人人都有问题。这就决定了养成教育绝不可能</tspan><tspan x="488" dy="13.65">一蹴而就，而是要有计划、分步骤的进行。否</tspan><tspan x="488" dy="13.65">则，贪多嚼不烂，造成无所不备无所不寡的结</tspan><tspan x="488" dy="13.65">果。具体计划如下：</tspan></text>
<text class="t" x="293" y="2524.9">1、在教育内容上，重点放在抓常规</text>
<text class="t" x="51" y="2442.9"><tspan x="51">常规即包括课堂、作业、卫生、纪律、室内外</tspan><tspan x="51" dy="13.65">、待人接物等方面的习惯，即所谓的文明礼貌</tspan><tspan x="51" dy="13.65">。学生成绩的好坏，原因是多方面的，不完全</tspan><tspan x="51" dy="13.65">取决于智力，很大程度上取决于习惯等非智力</tspan><tspan x="51" dy="13.65">因素。很多学生的学习成绩不理想，从表面现</tspan><tspan x="51" dy="13.65">象看是学习问题，实质上是没有养成良好习惯</tspan><tspan x="51" dy="13.65">。只有抓好常规，才能把精力集中到学习上去</tspan><tspan x="51" dy="13.65">。有些学生对老师反复的说教、批评已经麻木</tspan><tspan x="51" dy="13.65">，单纯的说教已经起不到什么作用了，要想真</tspan><tspan x="51" dy="13.65">正地规范学生的行为，就必须改变教育的方式</tspan><tspan x="51" dy="13.65">，在平时的点点滴滴中严格要求，逐步培养学</tspan><tspan x="51" dy="13.65">生良好的习惯，并把这种习惯迁移到学习上，</tspan><tspan x="51" dy="13.65">促进学习成绩的提高。</tspan></text>
<text class="t" x="313" y="2722.9">2、在教育时间上，分时段完成</text>
<text class="t" x="71" y="2653.9"><tspan x="71">学生问题较多，而班主任又要承担教学，精力</tspan><tspan x="71" dy="13.65">有限，不可能同时兼顾所有问题。更何况，学</tspan><tspan x="71" dy="13.65">生的问题长期形成，不能一下子要求解决，也</tspan><tspan x="71" dy="13.65">不能一次性全部解决。因此，针对这一系列的</tspan><tspan x="71" dy="13.65">问题，分时段完成，每段确定一个重点，解决</tspan><tspan x="71" dy="13.65">一两个主要问题。时间最长每月，最短每周解</tspan><tspan x="71" dy="13.65">决一个问题。每个问题确定一名学生负责，经</tspan><tspan x="71" dy="13.65">常督促检查。在前一个问题解决的基础上，</tspan><tspan x="71" dy="13.65">然后再进行下一个问题的规范与解决，逐步</tspan><tspan x="71" dy="13.65">推进，力争用一个学期的时间基本把这些常规</tspan><tspan x="71" dy="13.65">问题落实，使学生形成良好习惯。</tspan></text>
<text class="t" x="245" y="2837.9"><tspan x="245">3、在教育方式上，班主任有效引导的基础上</tspan><tspan x="245" dy="13.65">，充分挖掘学生的潜力。知已知彼，百战不殆</tspan><tspan x="245" dy="13.65">。教育，不是每一个学生都能接受的，所以在</tspan><tspan x="245" dy="13.65">了解学生的基础上，做及时的沟通和引导就变</tspan><tspan x="245" dy="13.65">得很重要了。要做好班主任工作，必须了解每</tspan><tspan x="245" dy="13.65">一个学生，了解他们的优点缺点、家庭环境、</tspan><tspan x="245" dy="13.65">性格特点，只有了解，才有沟通，有了沟通，</tspan><tspan x="245" dy="13.65">才有深入人心的引导和帮助。</tspan></text>
<text class="t" x="710" y="3062.9">二、构建良好的班级精神家园</text>
<text class="t" x="467" y="2980.9"><tspan x="467">集体需要凝聚力，班级需要昂扬向上的班风和</tspan><tspan x="467" dy="13.65">良好的班级文化。比如我们班的班训是：得意</tspan><tspan x="467" dy="13.65">失意，永不在意!进步退步，永不止步!这是全</tspan><tspan x="467" dy="13.65">班同学一起选出的口号，反映同学的心声。班</tspan><tspan x="467" dy="13.65">级墙上贴着班规和班干部、课代表、小组长等</tspan><tspan x="467" dy="13.65">的职责，时刻提醒同学们努力上进。除此之外</tspan><tspan x="467" dy="13.65">，班主任也应倡导同学们养成良好习惯，这是</tspan><tspan x="467" dy="13.65">无形的财富。快乐学习、热爱生活，班主任可</tspan><tspan x="467" dy="13.65">以发起跑步锻炼活动、鼓励同学们每个午后齐</tspan><tspan x="467" dy="13.65">声唱歌，振奋精神……诸如此类的方法有助于</tspan><tspan x="467" dy="13.65">形成互助互爱、轻松但不失努力、愉快但绝不</tspan><tspan x="467" dy="13.65">倦怠的班级氛围。 同时强化常规管理，创设</tspan><tspan x="467" dy="13.65">正常有序的学习环境。</tspan></text>
<text class="t" x="733" y="3339.9">三、进一步做好信心教育</text>
<text class="t" x="488" y="3190.9"><tspan x="488">因材施教，才能最大限度的挖掘学生的潜力，</tspan><tspan x="488" dy="13.65">才能最大限度的发挥自己的作用。不管学生基</tspan><tspan x="488" dy="13.65">础如何差，习惯如何不好，毕竟这是改变不了</tspan><tspan x="488" dy="13.65">的现实。这就是自己的学生，必须要面对，而</tspan><tspan x="488" dy="13.65">且还必须有所改变。对于这样的学生，最大的</tspan><tspan x="488" dy="13.65">问题就是信心问题。由于长期的考试不理想(</tspan><tspan x="488" dy="13.65">相对)，很多学生已经失去了学习的信心，心</tspan><tspan x="488" dy="13.65">态发生了变化，毫无斗志可言。这就决定了，</tspan><tspan x="488" dy="13.65">我的教育必须是唤醒式的教育。要每位同学牢</tspan><tspan x="488" dy="13.65">记班训：得意、失意、永不在意!进步、退步</tspan><tspan x="488" dy="13.65">永、不止步!</tspan></text>
<text class="t" x="488" y="3374.9"><tspan x="488">上学期"超越自我"的信心教育方法，这学期继</tspan><tspan x="488" dy="13.65">续坚持，并尽可能的丰富化。为此，我设计了</tspan><tspan x="488" dy="13.65">"我的学习我做主"的自我监督形式，内容涉及</tspan><tspan x="488" dy="13.65">到励志格言、成绩激励、听课状态自我监督、</tspan><tspan x="488" dy="13.65">作业自我解决、疑难解决办法、学会欣赏和家</tspan><tspan x="488" dy="13.65">长评语等。让学生在不断刺激中自我惊醒，自</tspan><tspan x="488" dy="13.65">我监督，自我竞争。天天一小步，一年一大步</tspan><tspan x="488" dy="13.65">。学生在日积月累中，增强自信，积极进取，</tspan><tspan x="488" dy="13.65">不断超越。</tspan></text>
<text class="t" x="733" y="3692.9">四、用激情理想鼓励学生</text>
<text class="t" x="488" y="3530.9"><tspan x="488">十六七岁的高中生正是有激情的时候，我们应</tspan><tspan x="488" dy="13.65">该调动他们的积极性，而不是压制。班里成绩</tspan><tspan x="488" dy="13.65">差的学生也学习地很积极，因为我要给了每一</tspan><tspan x="488" dy="13.65">个学生继续努力学习的动力。学习是有节奏的</tspan><tspan x="488" dy="13.65">，该玩的时候不要强迫学生学习，否则，只能</tspan><tspan x="488" dy="13.65">适得其反。所以，在调理好学习节奏的前提下</tspan><tspan x="488" dy="13.65">，同时用热情鼓舞学生，才能使整个班级齐心</tspan><tspan x="488" dy="13.65">向上。</tspan></text>
<text class="t" x="488" y="3674.9"><tspan x="488">多理解、多鼓励，少批评。把学生看成是与我</tspan><tspan x="488" dy="13.65">一样的成年人，他们有比较成熟的想法，他们</tspan><tspan x="488" dy="13.65">不需要我们过多的说教，他们最需要的是我们</tspan><tspan x="488" dy="13.65">的理解。当他已经认识到自己的错误的时候，</tspan><tspan x="488" dy="13.65">就不要再批评了，否则，只能起到相反的效果</tspan><tspan x="488" dy="13.65">。</tspan></text>
<text class="t" x="488" y="3789.9"><tspan x="488">在高一到高二的过度时期，让学生真正投入到</tspan><tspan x="488" dy="13.65">高中学习中，是最为紧迫的任务。这一阶段顺</tspan><tspan x="488" dy="13.65">利完成，则直接决定了学生今后两年良好状态</tspan><tspan x="488" dy="13.65">地学习。所以，在这一学期，我需要不遗余力</tspan><tspan x="488" dy="13.65">地想法让学生跟上步伐，打好基础。</tspan></text>
</g>

<g id="watermarks">
<text class="wm" x="648" y="575" text-anchor="middle" transform="rotate(-30 648 535)">树图 shutu.cn</text>
<text class="wm" x="1928" y="575" text-anchor="middle" transform="rotate(-30 1928 535)">树图 shutu.cn</text>
<text class="wm" x="648" y="1564" text-anchor="middle" transform="rotate(-30 648 1524)">树图 shutu.cn</text>
<text class="wm" x="1928" y="1564" text-anchor="middle" transform="rotate(-30 1928 1524)">树图 shutu.cn</text>
<text class="wm" x="648" y="2552" text-anchor="middle" transform="rotate(-30 648 2512)">树图 shutu.cn</text>
<text class="wm" x="1928" y="2552" text-anchor="middle" transform="rotate(-30 1928 2512)">树图 shutu.cn</text>
<text class="wm" x="648" y="3540" text-anchor="middle" transform="rotate(-30 648 3500)">树图 shutu.cn</text>
<text class="wm" x="1928" y="3540" text-anchor="middle" transform="rotate(-30 1928 3500)">树图 shutu.cn</text>
</g>
</svg>
